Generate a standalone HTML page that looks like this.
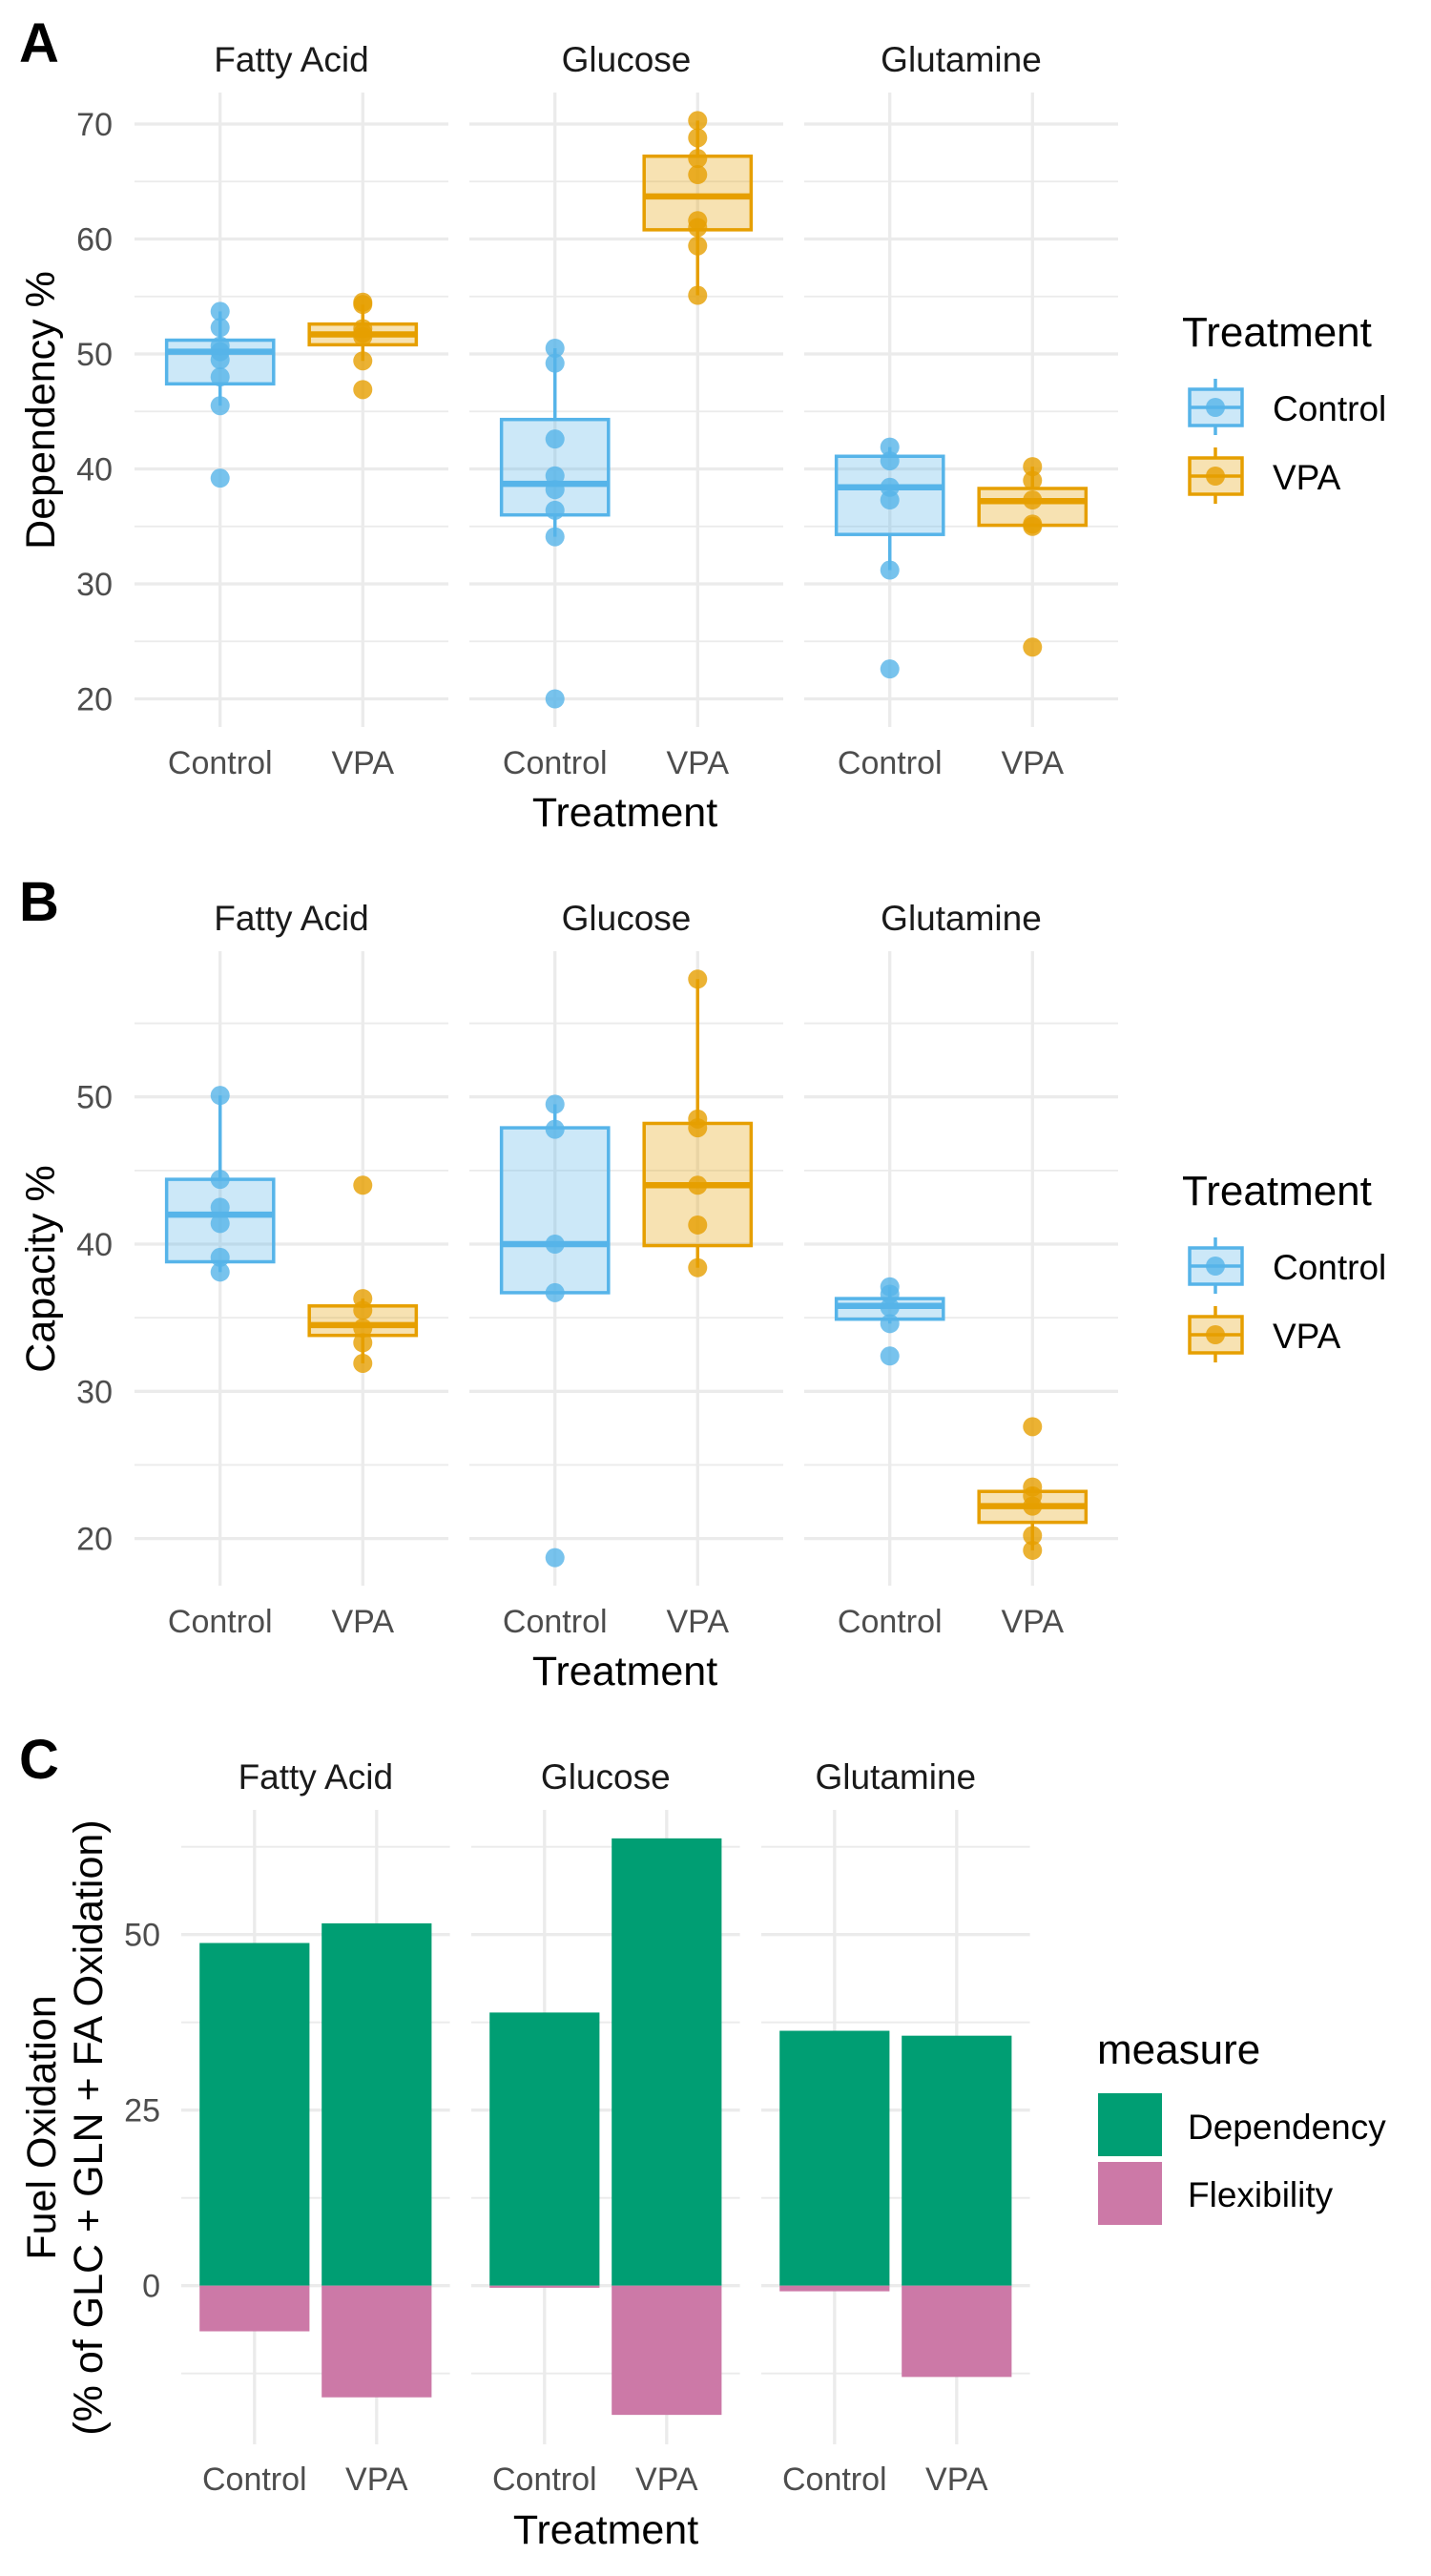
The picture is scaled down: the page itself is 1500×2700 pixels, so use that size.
<!DOCTYPE html>
<html><head><meta charset="utf-8">
<style>
html,body{margin:0;padding:0;background:#fff;}
svg{display:block;font-family:"Liberation Sans",Arial,sans-serif;}
</style></head>
<body>
<svg id="fig" width="1500" height="2700" viewBox="0 0 1500 2700" xmlns="http://www.w3.org/2000/svg">
<rect x="0" y="0" width="1500" height="2700" fill="#fff"/>
</svg>
<script>
// ---- shared categories ----
const facets = ["Fatty Acid", "Glucose", "Glutamine"];
const treatments = ["Control", "VPA"];
// ---- Panel A: Dependency % (points per facet x treatment) ----
const depPoints = [
  [[53.7,52.3,50.7,50.2,49.5,48.0,45.5,39.2],[54.3,54.5,52.2,51.8,51.5,49.4,46.9]],
  [[50.5,49.2,42.6,39.4,38.2,36.4,34.1,20.0],[70.3,68.8,67.0,65.6,61.6,61.0,59.4,55.1]],
  [[41.9,40.7,38.4,37.3,31.2,22.6],[40.2,39.0,37.3,35.2,35.0,24.5]]
];
// box stats: [whiskerLow, q1, median, q3, whiskerHigh]
const depBoxes = [
  [[45.5,47.4,50.2,51.2,53.7],[49.4,50.8,51.7,52.6,54.3]],
  [[34.1,36.0,38.7,44.3,50.5],[55.1,60.8,63.7,67.2,70.3]],
  [[31.2,34.3,38.4,41.1,41.9],[35.0,35.1,37.2,38.3,40.2]]
];
const depTicks = [20,30,40,50,60,70];
// ---- Panel B: Capacity % ----
const capPoints = [
  [[50.1,44.4,42.5,41.4,39.1,38.1],[44.0,36.3,35.5,34.3,33.3,31.9]],
  [[49.5,47.8,40.0,36.7,18.7],[58.0,48.5,47.9,44.0,41.3,38.4]],
  [[37.1,36.6,35.7,34.6,32.4],[27.6,23.5,22.9,22.2,20.2,19.2]]
];
const capBoxes = [
  [[38.1,38.8,42.0,44.4,50.1],[31.9,33.8,34.5,35.8,36.3]],
  [[36.7,36.7,40.0,47.9,49.5],[38.4,39.9,44.0,48.2,58.0]],
  [[34.6,34.9,35.8,36.3,37.1],[19.2,21.1,22.2,23.2,23.5]]
];
const capTicks = [20,30,40,50];
// ---- Panel C: stacked bars ----
const barDependency = [[48.8,51.6],[38.9,63.7],[36.3,35.6]];
const barFlexibility = [[-6.5,-15.9],[-0.3,-18.4],[-0.8,-13.0]];
const fuelTicks = [0,25,50];
const fuelMinor = [-12.5,12.5,37.5,62.5];

const NS = "http://www.w3.org/2000/svg";
const svg = document.getElementById("fig");
function mk(tag, attrs, parent) {
  const e = document.createElementNS(NS, tag);
  for (const k in attrs) e.setAttribute(k, attrs[k]);
  (parent || svg).appendChild(e);
  return e;
}
function txt(s, attrs, parent) { const t = mk("text", attrs, parent); t.textContent = s; return t; }
const COL = ["#56B4E9", "#E69F00"];
const GRID = "#ebebeb";

function boxPanel(opt) {
  const g = mk("g", {});
  
  
  const y = v => opt.y0 - (v - opt.v0) * opt.k;
  const top = opt.top, bot = opt.top + 665;
  const pw = 329, gap = 22, left0 = 141, unit = pw / 2.2;
  // panel label
  const pl = txt(opt.label, {x: 20, y: opt.top - 32, "font-size": 58, "font-weight": "bold", fill: "#000"}, g);
  
  
  facets.forEach((f, fi) => {
    const L = left0 + fi * (pw + gap);
    const xc = i => L + (0.6 + i) * unit;
    const st = txt(f, {x: L + pw / 2, y: opt.top - 22, "font-size": 37, fill: "#1a1a1a", "text-anchor": "middle"}, g);
    
    
    opt.minor.forEach(v => {
      const l = mk("line", {x1: L, x2: L + pw, y1: y(v), y2: y(v), stroke: GRID, "stroke-width": 1.8}, g);
      
      
    });
    opt.ticks.forEach(v => {
      const l = mk("line", {x1: L, x2: L + pw, y1: y(v), y2: y(v), stroke: GRID, "stroke-width": 3.3}, g);
      
      
    });
    treatments.forEach((t, ti) => {
      const l = mk("line", {x1: xc(ti), x2: xc(ti), y1: top, y2: bot, stroke: GRID, "stroke-width": 3.3}, g);
      
      
      const xl = txt(t, {x: xc(ti), y: opt.top + 714, "font-size": 34, fill: "#4d4d4d", "text-anchor": "middle"}, g);
      
      
    });
    treatments.forEach((t, ti) => {
      const b = opt.boxes[fi][ti], c = COL[ti], x = xc(ti), hw = 0.375 * unit;
      const bg = mk("g", {}, g);
      
      
      mk("line", {x1: x, x2: x, y1: y(b[3]), y2: y(b[4]), stroke: c, "stroke-width": 3.5}, bg);
      mk("line", {x1: x, x2: x, y1: y(b[1]), y2: y(b[0]), stroke: c, "stroke-width": 3.5}, bg);
      mk("rect", {x: x - hw, y: y(b[3]), width: 2 * hw, height: y(b[1]) - y(b[3]), fill: c, "fill-opacity": 0.3, stroke: c, "stroke-width": 3.5}, bg);
      mk("line", {x1: x - hw, x2: x + hw, y1: y(b[2]), y2: y(b[2]), stroke: c, "stroke-width": 6.5}, bg);
      opt.points[fi][ti].forEach(v => {
        const p = mk("circle", {cx: x, cy: y(v), r: 10, fill: c, "fill-opacity": 0.8}, g);
        
        
      });
    });
  });
  opt.ticks.forEach(v => {
    const tl = txt(String(v), {x: 118, y: y(v) + 12, "font-size": 34, fill: "#4d4d4d", "text-anchor": "end"}, g);
    
    
  });
  const yt = txt(opt.ytitle, {x: 0, y: 0, "font-size": 43, fill: "#000", "text-anchor": "middle", transform: "translate(57," + (opt.top + 333) + ") rotate(-90)"}, g);
  
  
  const xt = txt("Treatment", {x: 655, y: opt.top + 769, "font-size": 43, fill: "#000", "text-anchor": "middle"}, g);
  
  
  // legend
  const lg = mk("g", {}, g);
  
  
  const lt = txt("Treatment", {x: 1239, y: opt.top + 266, "font-size": 44, fill: "#000"}, lg);
  
  
  treatments.forEach((t, ti) => {
    const cy = opt.top + 330 + ti * 72, c = COL[ti];
    const e = mk("g", {}, lg);
    
    
    mk("line", {x1: 1274, x2: 1274, y1: cy - 30, y2: cy + 29, stroke: c, "stroke-width": 3.5}, e);
    mk("rect", {x: 1247, y: cy - 19, width: 55, height: 38, fill: "#fff", stroke: c, "stroke-width": 3.5}, e);
    mk("rect", {x: 1247, y: cy - 19, width: 55, height: 38, fill: c, "fill-opacity": 0.3}, e);
    mk("line", {x1: 1247, x2: 1302, y1: cy, y2: cy, stroke: c, "stroke-width": 3.5}, e);
    mk("circle", {cx: 1274, cy: cy, r: 10, fill: c, "fill-opacity": 0.8}, e);
    txt(t, {x: 1334, y: cy + 14, "font-size": 37, fill: "#000"}, e);
  });
}

boxPanel({name: "panel-a-dependency", label: "A", top: 97, y0: 130, v0: 70, k: 12.05,
  ticks: depTicks, minor: [25,35,45,55,65], points: depPoints, boxes: depBoxes, ytitle: "Dependency %"});
boxPanel({name: "panel-b-capacity", label: "B", top: 997, y0: 1304, v0: 40, k: 15.43,
  ticks: capTicks, minor: [25,35,45,55], points: capPoints, boxes: capBoxes, ytitle: "Capacity %"});

// ---- Panel C ----
(function () {
  const g = mk("g", {});
  
  
  const top = 1897, bot = 2562;
  const y = v => 2395.7 - v * 7.36;
  const pw = 281.6, step = 304, left0 = 190, unit = pw / 2.2;
  const pl = txt("C", {x: 20, y: 1864, "font-size": 58, "font-weight": "bold", fill: "#000"}, g);
  
  
  facets.forEach((f, fi) => {
    const L = left0 + fi * step;
    const xc = i => L + (0.6 + i) * unit;
    const st = txt(f, {x: L + pw / 2, y: 1875, "font-size": 37, fill: "#1a1a1a", "text-anchor": "middle"}, g);
    
    
    fuelMinor.forEach(v => {
      const l = mk("line", {x1: L, x2: L + pw, y1: y(v), y2: y(v), stroke: GRID, "stroke-width": 1.8}, g);
      
      
    });
    fuelTicks.forEach(v => {
      const l = mk("line", {x1: L, x2: L + pw, y1: y(v), y2: y(v), stroke: GRID, "stroke-width": 3.3}, g);
      
      
    });
    treatments.forEach((t, ti) => {
      const l = mk("line", {x1: xc(ti), x2: xc(ti), y1: top, y2: bot, stroke: GRID, "stroke-width": 3.3}, g);
      
      
      const xl = txt(t, {x: xc(ti), y: 2610, "font-size": 34, fill: "#4d4d4d", "text-anchor": "middle"}, g);
      
      
    });
    treatments.forEach((t, ti) => {
      const bw = 0.9 * unit, x = xc(ti) - bw / 2;
      const d = barDependency[fi][ti], fl = barFlexibility[fi][ti];
      const b1 = mk("rect", {x: x, y: y(d), width: bw, height: y(0) - y(d), fill: "#009E73"}, g);
      
      
      const b2 = mk("rect", {x: x, y: y(0), width: bw, height: y(fl) - y(0), fill: "#CC79A7"}, g);
      
      
    });
  });
  fuelTicks.forEach(v => {
    const tl = txt(String(v), {x: 168, y: y(v) + 12, "font-size": 34, fill: "#4d4d4d", "text-anchor": "end"}, g);
    
    
  });
  const yt = txt("", {x: 0, y: 0, "font-size": 43, fill: "#000", "text-anchor": "middle", transform: "translate(0,2230) rotate(-90)"}, g);
  
  
  const s1 = mk("tspan", {x: 0, y: 58}, yt); s1.textContent = "Fuel Oxidation";
  const s2 = mk("tspan", {x: 0, y: 107}, yt); s2.textContent = "(% of GLC + GLN + FA Oxidation)";
  const xt = txt("Treatment", {x: 635, y: 2666, "font-size": 43, fill: "#000", "text-anchor": "middle"}, g);
  
  
  const lg = mk("g", {}, g);
  
  
  const lt = txt("measure", {x: 1150, y: 2163, "font-size": 44, fill: "#000"}, lg);
  
  
  const lnames = ["Dependency", "Flexibility"], lcols = ["#009E73", "#CC79A7"];
  lnames.forEach((n, i) => {
    const e = mk("g", {}, lg);
    
    
    mk("rect", {x: 1151, y: 2194 + i * 72, width: 67, height: 66, fill: lcols[i]}, e);
    txt(n, {x: 1245, y: 2242 + i * 71, "font-size": 37, fill: "#000"}, e);
  });
})();
</script>
</body></html>
